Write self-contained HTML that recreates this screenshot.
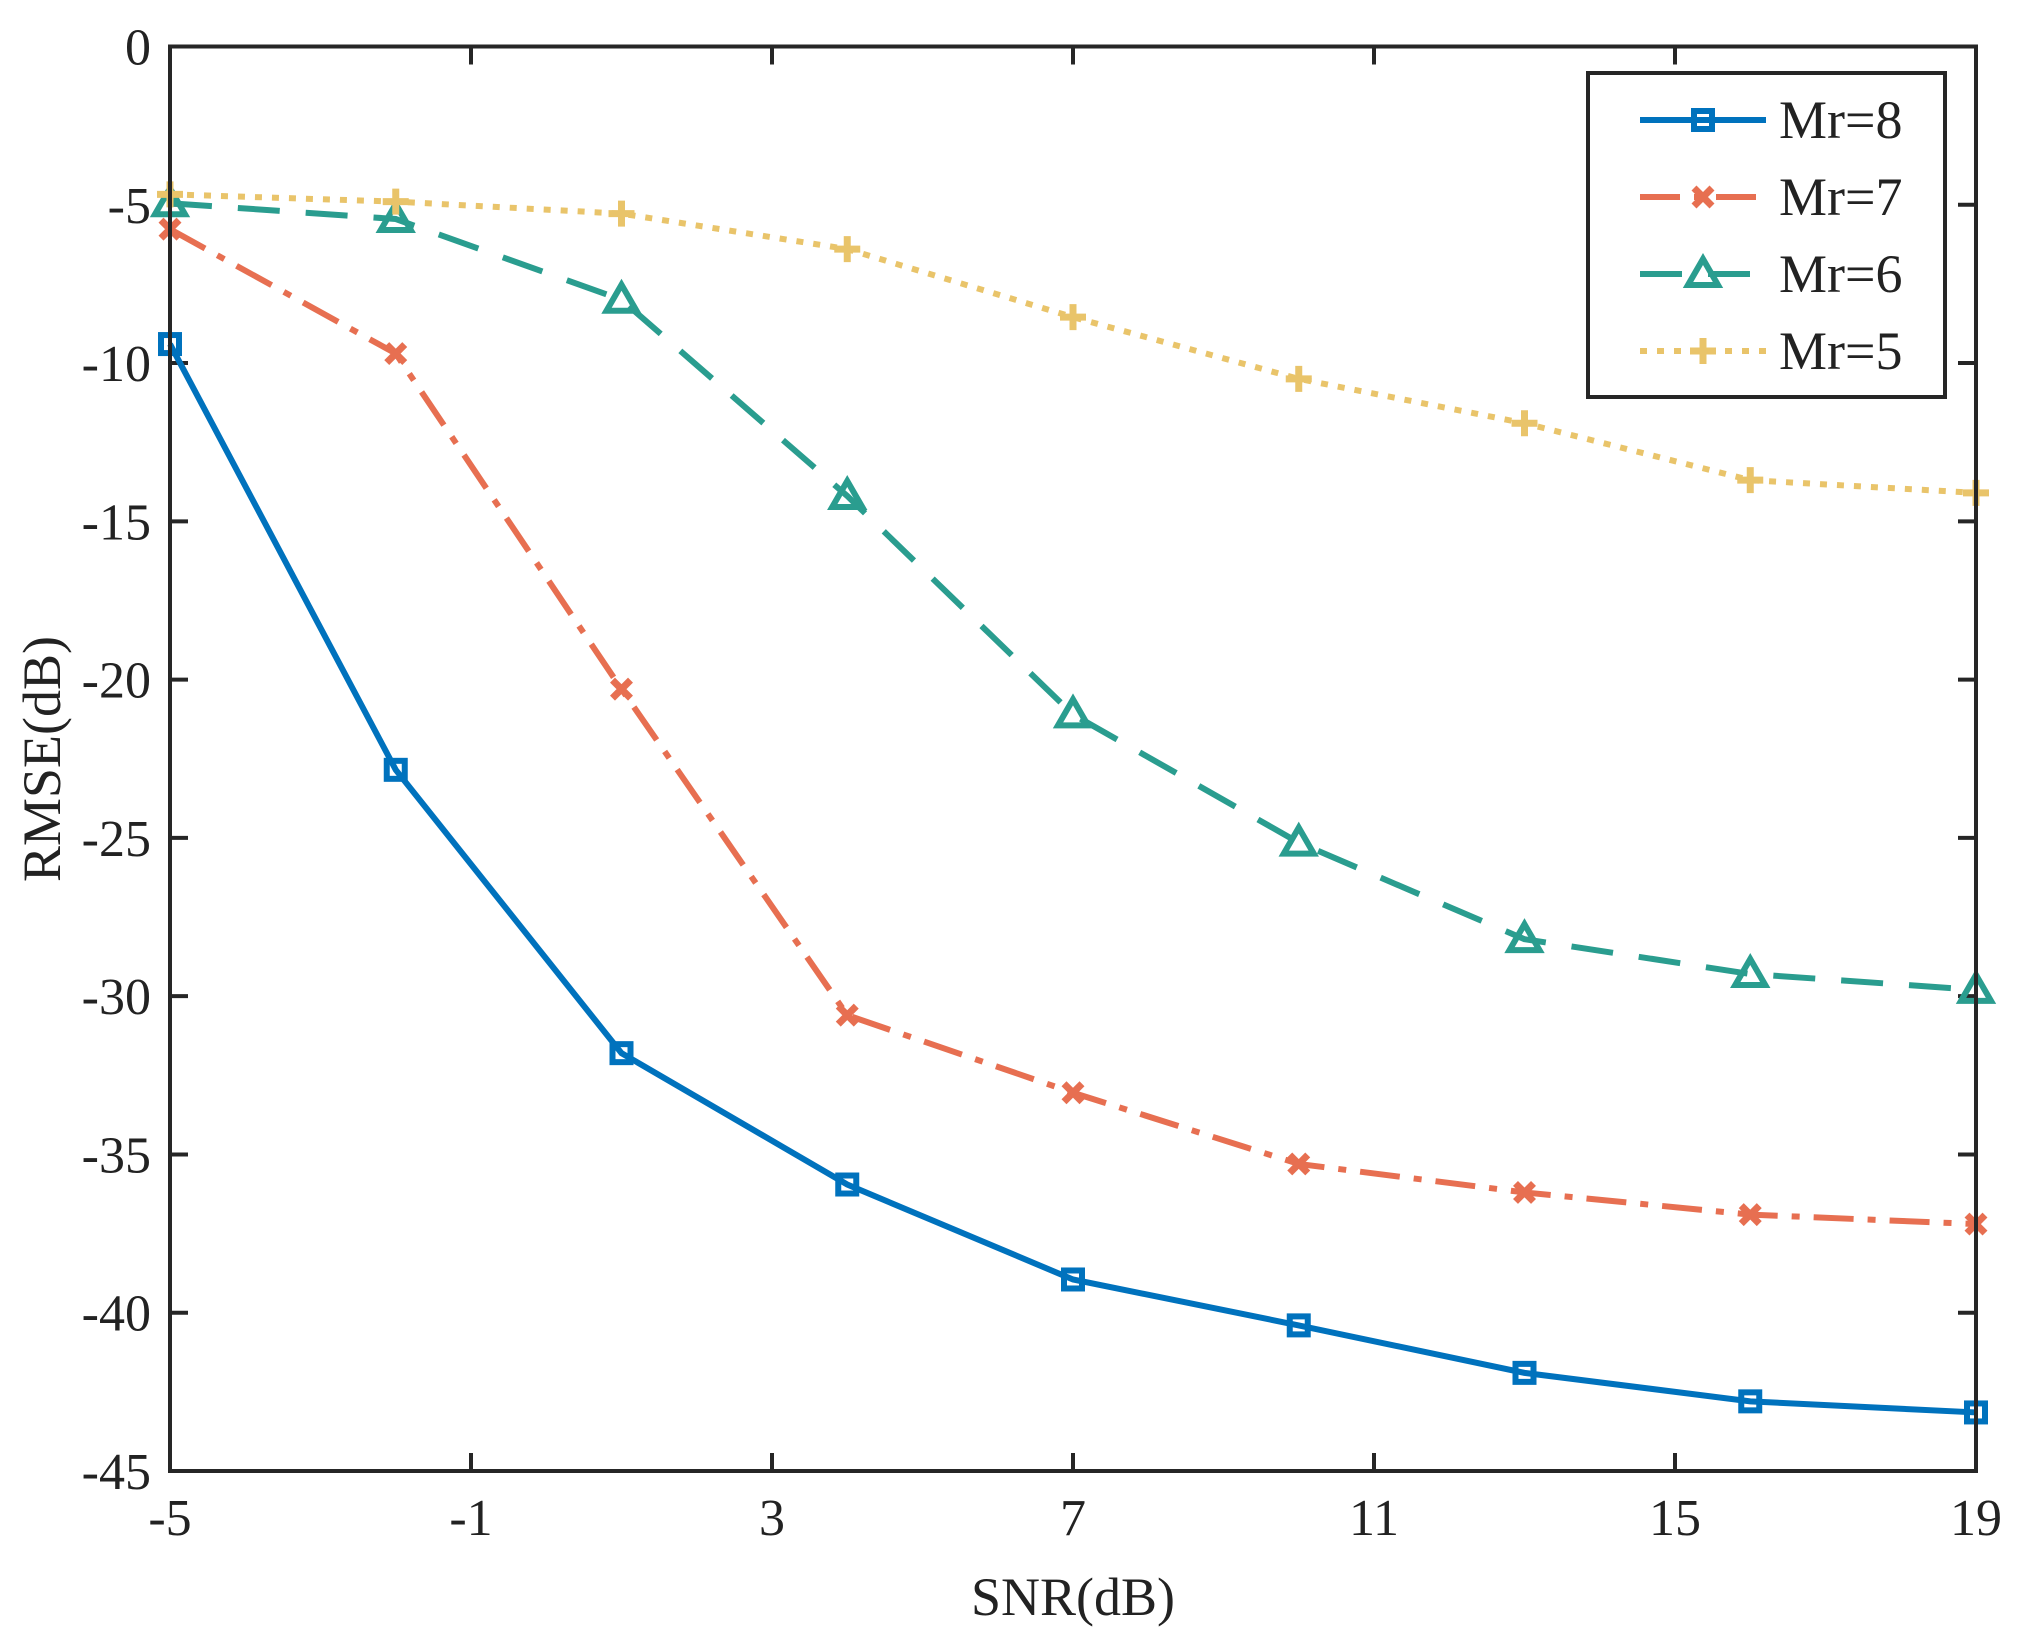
<!DOCTYPE html>
<html><head><meta charset="utf-8">
<style>
html,body{margin:0;padding:0;background:#fff;}
svg{display:block;}
text{font-family:"Liberation Serif","Times New Roman",Times,serif;fill:#222;}
</style></head>
<body>
<svg id="chart" width="2033" height="1637" viewBox="0 0 2033 1637" xmlns="http://www.w3.org/2000/svg">
<g id="ticks"></g>
<g id="series"></g>
<rect x="170" y="46.5" width="1806" height="1424.5" fill="none" stroke="#262626" stroke-width="4"/>
<text x="1073" y="1615" font-size="54" font-family="Liberation Serif, serif" text-anchor="middle">SNR(dB)</text>
<text transform="translate(60,759) rotate(-90)" font-size="54" font-family="Liberation Serif, serif" text-anchor="middle">RMSE(dB)</text>
<g id="legend"></g>
</svg>
<script>
const snr = [-5, -2, 1, 4, 7, 10, 13, 16, 19];
const mr8 = [-9.4, -22.85, -31.8, -35.95, -38.95, -40.4, -41.9, -42.8, -43.15];
const mr7 = [-5.77, -9.7, -20.3, -30.6, -33.05, -35.3, -36.2, -36.9, -37.2];
const mr6 = [-4.95, -5.45, -8.0, -14.2, -21.1, -25.15, -28.2, -29.3, -29.8];
const mr5 = [-4.67, -4.9, -5.28, -6.4, -8.55, -10.5, -11.9, -13.7, -14.1];
const seriesNames = ["Mr=8", "Mr=7", "Mr=6", "Mr=5"];
const xTicks = [-5, -1, 3, 7, 11, 15, 19];
const yTicks = [0, -5, -10, -15, -20, -25, -30, -35, -40, -45];

const X0 = 170, X1 = 1976, Y0 = 46.5, Y1 = 1471;
const xMin = -5, xMax = 19, yMin = -45, yMax = 0;
function sx(v){ return X0 + (v - xMin) / (xMax - xMin) * (X1 - X0); }
function sy(v){ return Y0 + (yMax - v) / (yMax - yMin) * (Y1 - Y0); }
const NS = "http://www.w3.org/2000/svg";
function mk(tag, attrs, parent){
  const e = document.createElementNS(NS, tag);
  for (const k in attrs) e.setAttribute(k, attrs[k]);
  parent.appendChild(e);
  return e;
}
const FONT = 'Liberation Serif, serif';
const tg = document.getElementById('ticks');
xTicks.forEach(t => {
  const x = sx(t);
  const l1 = mk('line', {x1:x, x2:x, y1:Y1, y2:Y1-18, stroke:'#262626','stroke-width':4}, tg);
  
  
  const l2 = mk('line', {x1:x, x2:x, y1:Y0, y2:Y0+18, stroke:'#262626','stroke-width':4}, tg);
  
  
  const tx = mk('text', {x:x, y:1535, 'font-size':52, 'font-family':FONT, 'text-anchor':'middle'}, tg);
  tx.textContent = String(t);
  
  
});
yTicks.forEach(t => {
  const y = sy(t);
  const l1 = mk('line', {x1:X0, x2:X0+18, y1:y, y2:y, stroke:'#262626','stroke-width':4}, tg);
  
  
  const l2 = mk('line', {x1:X1, x2:X1-18, y1:y, y2:y, stroke:'#262626','stroke-width':4}, tg);
  
  
  const tx = mk('text', {x:151, y:y+18, 'font-size':52, 'font-family':FONT, 'text-anchor':'end'}, tg);
  tx.textContent = String(t);
  
  
});

const styles = [
  {color:'#0072BD', dash:'', marker:'square'},
  {color:'#E76F51', dash:'40 14 8 14', marker:'x'},
  {color:'#2A9D8F', dash:'42 26', marker:'triangle'},
  {color:'#E9C46A', dash:'7 10', marker:'plus'}
];
const data = [mr8, mr7, mr6, mr5];

function marker(g, type, x, y, color){
  let m;
  if (type === 'square') {
    m = mk('rect', {x:x-9, y:y-9, width:18, height:18, fill:'none', stroke:color, 'stroke-width':6}, g);
  } else if (type === 'x') {
    m = mk('path', {d:`M${x-9},${y-9}L${x+9},${y+9}M${x-9},${y+9}L${x+9},${y-9}`, stroke:color, 'stroke-width':7, fill:'none'}, g);
  } else if (type === 'triangle') {
    m = mk('path', {d:`M${x},${y-15}L${x+15},${y+11}L${x-15},${y+11}Z`, stroke:color, 'stroke-width':6, fill:'none'}, g);
  } else {
    m = mk('path', {d:`M${x-13},${y}L${x+13},${y}M${x},${y-13}L${x},${y+13}`, stroke:color, 'stroke-width':7, fill:'none'}, g);
  }
  return m;
}

const sg = document.getElementById('series');
data.forEach((vals, i) => {
  const st = styles[i];
  const g = mk('g', {}, sg);
  
  
  const pts = vals.map((v, j) => sx(snr[j]) + ',' + sy(v)).join(' ');
  const pl = mk('polyline', {points:pts, fill:'none', stroke:st.color, 'stroke-width':6, 'stroke-dasharray':st.dash}, g);
  
  
  vals.forEach((v, j) => {
    const m = marker(g, st.marker, sx(snr[j]), sy(v), st.color);
    
    
  });
});

const lg = document.getElementById('legend');
const box = mk('rect', {x:1588, y:73, width:357, height:324, fill:'#fff', stroke:'#262626', 'stroke-width':4}, lg);


seriesNames.forEach((name, i) => {
  const y = 120 + i * 77;
  const st = styles[i];
  const g = mk('g', {}, lg);
  
  
  mk('line', {x1:1640, x2:1766, y1:y, y2:y, stroke:st.color, 'stroke-width':6, 'stroke-dasharray':st.dash}, g);
  marker(g, st.marker, 1703, y, st.color);
  const t = mk('text', {x:1779, y:y+18, 'font-size':54, 'font-family':FONT}, g);
  t.textContent = name;
  
  
});
</script>
</body></html>
